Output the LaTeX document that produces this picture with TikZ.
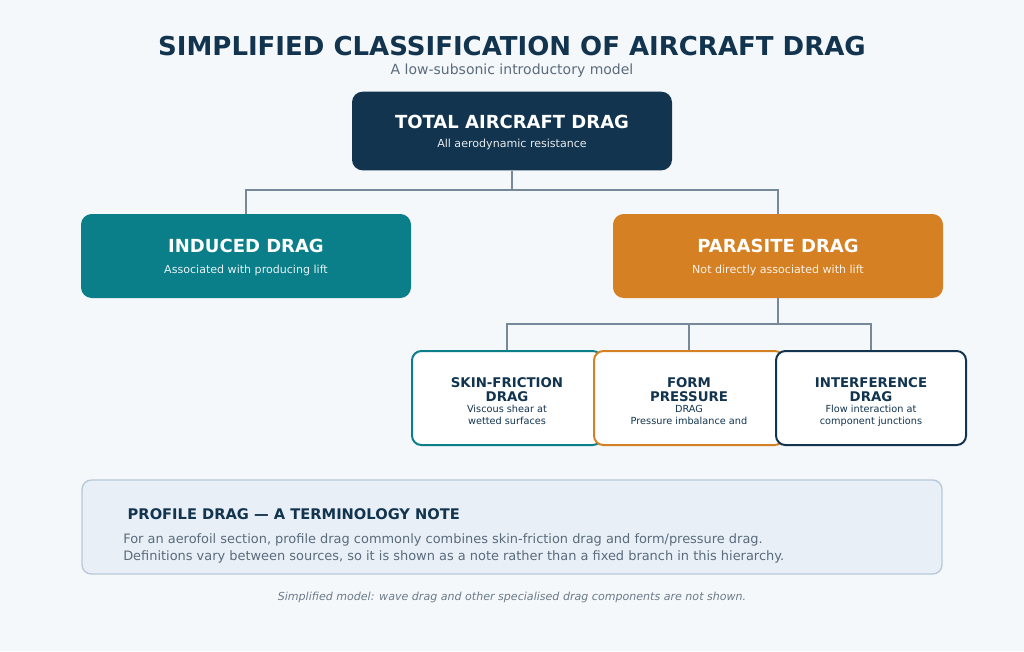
\documentclass[tikz,border=0pt]{standalone}
\usepackage{fontspec}
\setmainfont{DejaVu Sans}
\usetikzlibrary{positioning}
\definecolor{navy}{HTML}{12344F}
\definecolor{teal}{HTML}{0A7F8A}
\definecolor{amber}{HTML}{D58022}
\definecolor{link}{HTML}{778899}
\definecolor{bg}{HTML}{F5F8FB}
\definecolor{notefill}{HTML}{E8EFF6}
\definecolor{noteline}{HTML}{B8C8D8}
\definecolor{grey}{HTML}{5A6B7C}
\begin{document}
\begin{tikzpicture}[x=0.75pt,y=-0.75pt,
    big/.style={rounded corners=8pt, minimum width=247.5pt, minimum height=63pt, align=center, text=white},
    small/.style={draw, line width=1.5pt, fill=white, rounded corners=7pt, minimum width=142.5pt, minimum height=70.5pt},
    link/.style={draw=link, line width=1.5pt}
  ]
  \fill[bg] (0,0) rectangle (1024,651);
  % Title
  \node[text=navy, font=\bfseries\fontsize{19.5}{22}\selectfont] (title) at (512,46) {SIMPLIFIED CLASSIFICATION OF AIRCRAFT DRAG};
  \node[text=grey, font=\fontsize{10.5}{12}\selectfont] (subtitle) at (512,71) {A low-subsonic introductory model};

  % Main boxes
  \node[big, fill=navy, minimum width=240pt, minimum height=59pt] (total) at (512,131) {};
  \node[text=white, font=\bfseries\fontsize{13.5}{15}\selectfont] at (512,122) {TOTAL AIRCRAFT DRAG};
  \node[text=white!90!navy, font=\fontsize{8.3}{10}\selectfont] at (512,144) {All aerodynamic resistance};

  \node[big, fill=teal] (induced) at (246,256) {};
  \node[text=white, font=\bfseries\fontsize{13.5}{15}\selectfont] at (246,246) {INDUCED DRAG};
  \node[text=white!90!teal, font=\fontsize{8.3}{10}\selectfont] at (246,270) {Associated with producing lift};

  \node[big, fill=amber] (parasite) at (778,256) {};
  \node[text=white, font=\bfseries\fontsize{13.5}{15}\selectfont] at (778,246) {PARASITE DRAG};
  \node[text=white!90!amber, font=\fontsize{8.3}{10}\selectfont] at (778,270) {Not directly associated with lift};

  % Sub components
  \node[small, draw=teal] (skin) at (507,398) {};
  \node[small, draw=amber] (form) at (689,398) {};
  \node[small, draw=navy] (interf) at (871,398) {};
  \foreach \n/\a/\b/\c/\d in {skin/SKIN-FRICTION/DRAG/Viscous shear at/wetted surfaces,
      form/FORM / PRESSURE/DRAG/Pressure imbalance and/separated wakes,
      interf/INTERFERENCE/DRAG/Flow interaction at/component junctions}{
    \node[text=navy, align=center, font=\bfseries\fontsize{10}{10.5}\selectfont, anchor=north] at ([yshift=-17pt]\n.north) {\a\\\b};
    \node[text=navy, align=center, font=\fontsize{7.3}{9}\selectfont, anchor=north] at ([yshift=-38pt]\n.north) {\c\\\d};
  }

  % Connectors
  \draw[link] (total.south) -- ++(0,19) -| (induced.north);
  \draw[link] (total.south) ++(0,19) -| (parasite.north);
  \draw[link] (parasite.south) -- ++(0,26) -| (skin.north);
  \draw[link] (parasite.south) ++(0,26) -| (interf.north);
  \draw[link] (parasite.south) ++(0,26) -| (form.north);

  % Note
  \node[draw=noteline, line width=1pt, fill=notefill, rounded corners=7pt, minimum width=645pt, minimum height=70.5pt] (note) at (512,527) {};
  \node[anchor=west, text=navy, font=\bfseries\fontsize{11}{13}\selectfont] (notetitle) at (123,514) {PROFILE DRAG — A TERMINOLOGY NOTE};
  \node[anchor=north west, text=grey, align=left, font=\fontsize{9.7}{13}\selectfont, inner sep=0pt] (notetext) at (123,533)
    {For an aerofoil section, profile drag commonly combines skin-friction drag and form/pressure drag.\\
     Definitions vary between sources, so it is shown as a note rather than a fixed branch in this hierarchy.};
  \node[text=grey!90, font=\itshape\fontsize{8.3}{10}\selectfont] (footer) at (512,597) {Simplified model: wave drag and other specialised drag components are not shown.};
\end{tikzpicture}
\end{document}
